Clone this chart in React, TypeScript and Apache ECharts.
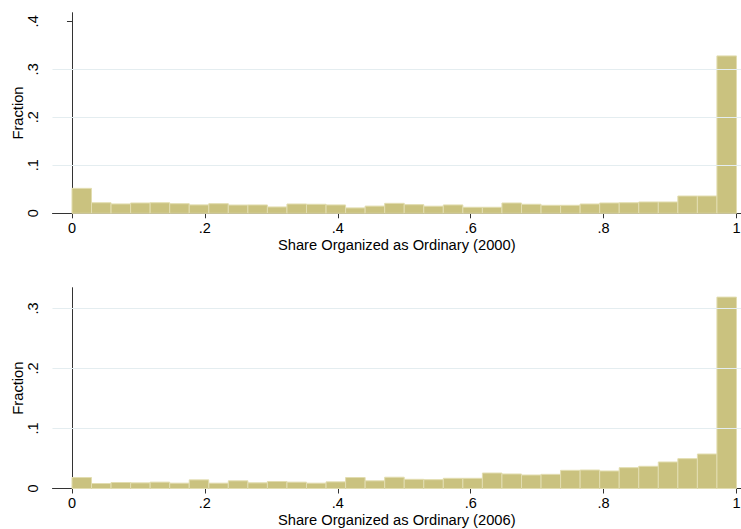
import React, { useEffect, useRef } from "react";
import * as echarts from "echarts";

// Histogram: 34 equal-width bins on [0, 1]
const BIN_COUNT = 34;
const X_TICKS = [0, 0.2, 0.4, 0.6, 0.8, 1];
const Y_TICKS_2000 = [0, 0.1, 0.2, 0.3, 0.4];
const Y_TICKS_2006 = [0, 0.1, 0.2, 0.3];
const GRID_2000 = [0.1, 0.2, 0.3];
const GRID_2006 = [0.1, 0.2, 0.3];

const fraction2000 = [
  0.052, 0.022, 0.0195, 0.0215, 0.022, 0.020, 0.0175, 0.020, 0.0172, 0.0174,
  0.0132, 0.0194, 0.0188, 0.0174, 0.0112, 0.015, 0.0208, 0.018, 0.0148, 0.0174,
  0.0126, 0.0126, 0.0215, 0.0188, 0.0167, 0.0167, 0.0194, 0.0215, 0.022, 0.0236,
  0.0236, 0.036, 0.036, 0.328,
];

const fraction2006 = [
  0.0183, 0.0083, 0.010, 0.0094, 0.0106, 0.0089, 0.0144, 0.0089, 0.0128, 0.0094,
  0.0117, 0.0106, 0.0089, 0.0111, 0.0183, 0.0128, 0.0188, 0.0153, 0.0147, 0.017,
  0.017, 0.0258, 0.0242, 0.0225, 0.0236, 0.0303, 0.0308, 0.0292, 0.0347, 0.037,
  0.0442, 0.0497, 0.0575, 0.319,
];

const TITLE_2000 = "Share Organized as Ordinary (2000)";
const TITLE_2006 = "Share Organized as Ordinary (2006)";
const Y_TITLE = "Fraction";

const FONT = "'Liberation Sans', Arial, Helvetica, sans-serif";
const BAR_FILL = "#cac27f";
const BAR_STROKE = "#e2ddb0";
const AXIS_COLOR = "#333333";
const GRID_COLOR = "#e4edf0";

const fmt = (v: number) => {
  if (Math.abs(v) < 1e-9) return "0";
  if (Math.abs(v - 1) < 1e-9) return "1";
  return "." + Math.round(v * 10);
};

const toBins = (vals: number[]) =>
  vals.map((v, i) => [i / BIN_COUNT, (i + 1) / BIN_COUNT, v]);

export default function App() {
  const ref = useRef<HTMLDivElement>(null);

  useEffect(() => {
    if (!ref.current) return;
    const chart = echarts.init(ref.current, null, { renderer: "svg" });

    const xAxisBase = (gridIndex: number, name: string) => ({
      type: "value",
      gridIndex,
      min: -0.0293,
      max: 1.0068,
      name,
      nameLocation: "middle",
      nameGap: 24,
      nameMoveOverlap: false,
      nameTextStyle: { fontFamily: FONT, fontSize: 14.7, color: "#000" },
      axisLine: { show: true, onZero: false, lineStyle: { color: AXIS_COLOR, width: 1 } },
      axisTick: { show: true, length: 5, customValues: X_TICKS, lineStyle: { color: AXIS_COLOR } },
      axisLabel: {
        customValues: X_TICKS,
        formatter: fmt,
        margin: 7,
        fontFamily: FONT,
        fontSize: 14.5,
        color: "#000",
      },
      splitLine: { show: false },
    });

    const yAxisBase = (gridIndex: number, max: number, ticks: number[]) => ({
      type: "value",
      gridIndex,
      min: 0,
      max,
      name: Y_TITLE,
      nameLocation: "middle",
      nameRotate: 90,
      nameGap: 27,
      nameMoveOverlap: false,
      nameTextStyle: { fontFamily: FONT, fontSize: 14.7, color: "#000" },
      axisLine: { show: true, lineStyle: { color: AXIS_COLOR, width: 1 } },
      axisTick: { show: true, length: 5, customValues: ticks, lineStyle: { color: AXIS_COLOR } },
      axisLabel: {
        customValues: ticks,
        formatter: fmt,
        rotate: 90,
        margin: 12,
        fontFamily: FONT,
        fontSize: 14.5,
        color: "#000",
      },
      splitLine: { show: false },
    });

    const histSeries = (idx: number, vals: number[]) => ({
      type: "custom",
      xAxisIndex: idx,
      yAxisIndex: idx,
      z: 3,
      encode: { x: [0, 1], y: 2 },
      data: toBins(vals),
      renderItem: (params: any, api: any) => {
        const p0 = api.coord([api.value(0), api.value(2)]);
        const p1 = api.coord([api.value(1), 0]);
        return {
          type: "rect",
          shape: { x: p0[0], y: p0[1], width: p1[0] - p0[0], height: p1[1] - p0[1] },
          style: { fill: BAR_FILL, stroke: BAR_STROKE, lineWidth: 1 },
        };
      },
    });

    const gridSeries = (idx: number, lines: number[]) => ({
      type: "line",
      xAxisIndex: idx,
      yAxisIndex: idx,
      z: 1,
      data: [],
      silent: true,
      markLine: {
        silent: true,
        symbol: ["none", "none"],
        label: { show: false },
        lineStyle: { color: GRID_COLOR, type: "solid", width: 1.2 },
        data: lines.map((v) => ({ yAxis: v })),
      },
    });

    chart.setOption({
      animation: false,
      backgroundColor: "#ffffff",
      grid: [
        { left: 52.5, top: 12.7, width: 688.5, height: 200.6, containLabel: false, outerBoundsMode: "none" },
        { left: 52.5, top: 287.7, width: 688.5, height: 200.8, containLabel: false, outerBoundsMode: "none" },
      ],
      xAxis: [xAxisBase(0, TITLE_2000), xAxisBase(1, TITLE_2006)],
      yAxis: [yAxisBase(0, 0.418, Y_TICKS_2000), yAxisBase(1, 0.3347, Y_TICKS_2006)],
      series: [
        gridSeries(0, GRID_2000),
        histSeries(0, fraction2000),
        gridSeries(1, GRID_2006),
        histSeries(1, fraction2006),
      ],
    });

    return () => chart.dispose();
  }, []);

  return (
    <div
      ref={ref}
      style={{ position: "fixed", left: 0, top: 0, width: 741, height: 529, background: "#fff" }}
    />
  );
}
